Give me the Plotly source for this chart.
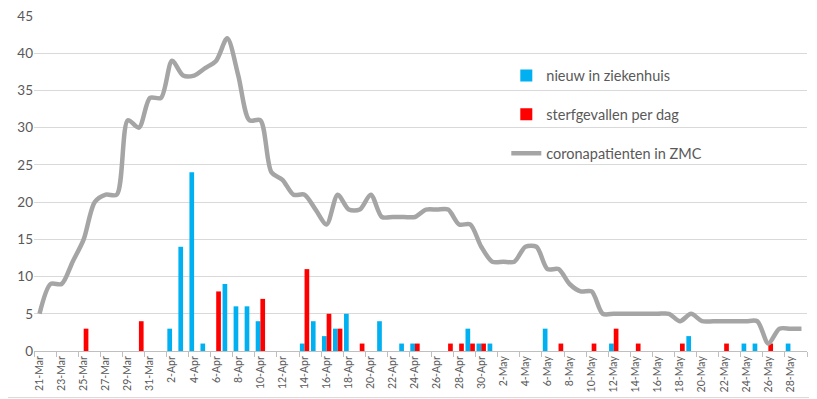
import pandas as pd
import plotly.graph_objects as go

# Categories: one per day, 21-Mar .. 29-May
dates = pd.date_range("2020-03-21", "2020-05-29", freq="D")
labels = [f"{d.day}-{d.strftime('%b')}" for d in dates]

# nieuw in ziekenhuis (index -> value, rest zero)
nieuw_idx = [12, 13, 14, 15, 17, 18, 19, 20, 24, 25, 26, 27, 28, 31, 33, 34, 39, 40, 41, 46, 52, 59, 64, 65, 68]
nieuw_val = [3, 14, 24, 1, 9, 6, 6, 4, 1, 4, 2, 3, 5, 4, 1, 1, 3, 1, 1, 3, 1, 2, 1, 1, 1]

# sterfgevallen per dag
sterf_idx = [4, 9, 16, 20, 24, 26, 27, 29, 34, 37, 38, 39, 40, 47, 50, 52, 54, 58, 62, 66]
sterf_val = [3, 4, 8, 7, 11, 5, 3, 1, 1, 1, 1, 1, 1, 1, 1, 3, 1, 1, 1, 1]

# coronapatienten in ZMC
corona = [5, 9, 9, 12, 15, 20, 21, 21, 31, 30,
          34, 34, 39, 37, 37, 38, 39, 42, 37, 31,
          31, 24, 23, 21, 21, 19, 17, 21, 19, 19,
          21, 18, 18, 18, 18, 19, 19, 19, 17, 17,
          14, 12, 12, 12, 14, 14, 11, 11, 9, 8,
          8, 5, 5, 5, 5, 5, 5, 5, 4, 5,
          4, 4, 4, 4, 4, 4, 1, 3, 3, 3]

nieuw = [0] * len(labels)
for i, v in zip(nieuw_idx, nieuw_val):
    nieuw[i] = v
sterf = [0] * len(labels)
for i, v in zip(sterf_idx, sterf_val):
    sterf[i] = v

FONT = "Lato, 'Open Sans', sans-serif"
TXT = "#595959"

fig = go.Figure()
fig.add_trace(go.Bar(x=labels, y=nieuw, name="nieuw in ziekenhuis",
                     marker=dict(color="#00B0F0", line=dict(width=0)),
                     legendgroup="a"))
fig.add_trace(go.Bar(x=labels, y=sterf, name="sterfgevallen per dag",
                     marker=dict(color="#FF0000", line=dict(width=0)),
                     legendgroup="b"))
fig.add_trace(go.Scatter(x=labels, y=corona, name="coronapatienten in ZMC",
                         mode="lines",
                         line=dict(color="#A5A5A5", width=4.5, shape="spline", smoothing=0.8),
                         legendgroup="c"))

fig.update_layout(
    width=809, height=391,
    margin=dict(l=26, r=10, t=8, b=48, autoexpand=False),
    paper_bgcolor="white", plot_bgcolor="white",
    barmode="group", bargap=0.15, bargroupgap=0,
    font=dict(family=FONT, color=TXT),
    legend=dict(x=0.611, y=0.87, xanchor="left", yanchor="top",
                font=dict(size=14.5, color=TXT, family=FONT),
                tracegroupgap=17, bgcolor="rgba(0,0,0,0)",
                itemwidth=30),
    xaxis=dict(type="category", tickmode="linear", tick0=0, dtick=2,
               tickson="boundaries", ticks="outside", ticklen=5,
               tickcolor="#BFBFBF", tickangle=-90, automargin=False,
               ticklabeloverflow="allow",
               tickfont=dict(size=10.5, color=TXT, family=FONT),
               showgrid=False, showline=True, linecolor="#BFBFBF", linewidth=1,
               range=[-0.5, len(labels) - 0.5]),
    yaxis=dict(range=[0, 45], tickmode="linear", tick0=0, dtick=5,
               showgrid=True, gridcolor="#D9D9D9", gridwidth=1,
               zeroline=False, showline=False, ticks="", automargin=False,
               ticklabeloverflow="allow",
               tickfont=dict(size=13.5, color=TXT, family=FONT)),
    shapes=[
        dict(type="line", xref="paper", yref="paper",
             x0=1.011, x1=1.011, y0=-0.139, y1=1.1,
             line=dict(color="#D9D9D9", width=1), layer="below"),
        dict(type="line", xref="paper", yref="paper",
             x0=-0.1, x1=1.011, y0=-0.139, y1=-0.139,
             line=dict(color="#D9D9D9", width=1), layer="below"),
    ],
)

fig.write_html("out.html")
